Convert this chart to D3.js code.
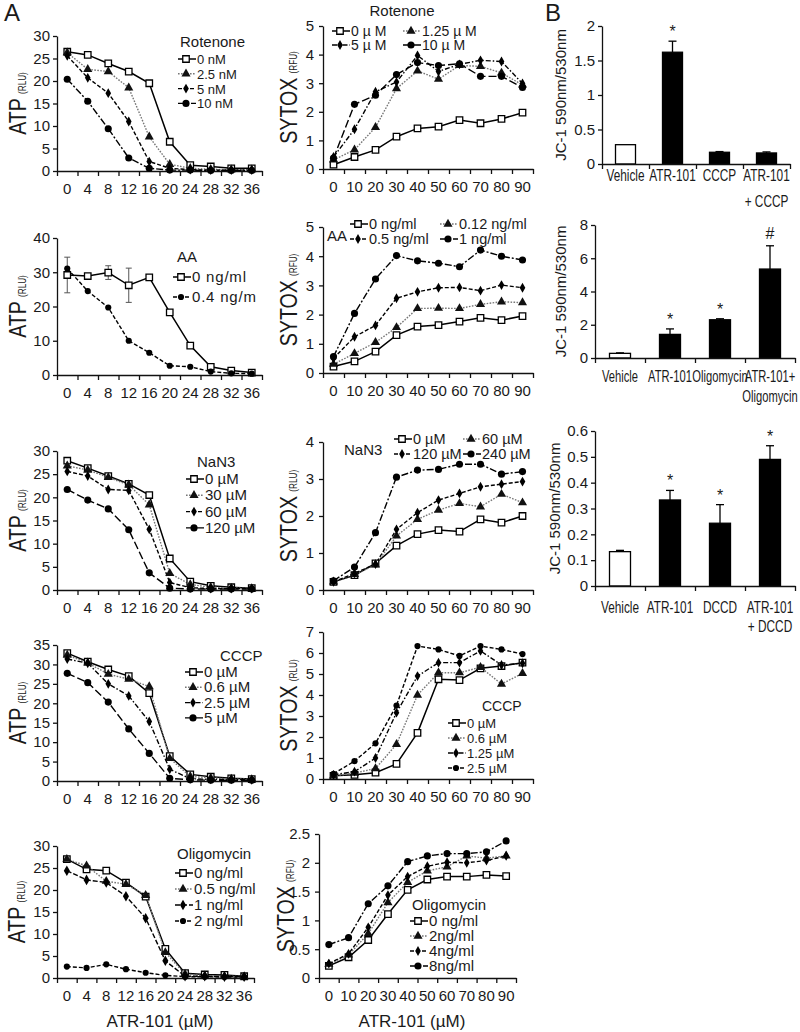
<!DOCTYPE html>
<html><head><meta charset="utf-8">
<script src="https://cdn.jsdelivr.net/npm/d3@7"></script>
<style>
body{margin:0;background:#fff}
svg{display:block}
text{font-family:'Liberation Sans',Arial,sans-serif;fill:#1a1a1a}
</style></head><body>
<svg id="c" width="800" height="1032"></svg>
<script>
// ---------- categories ----------
const atpDose = ["0","4","8","12","16","20","24","28","32","36"];
const sytoxTime = ["0","10","20","30","40","50","60","70","80","90"];

// ---------- Rotenone ----------
const rotAtpNames = ["0 nM","2.5 nM","5 nM","10 nM"];
const rotAtp0  = [26.5,25.8,23.9,22.1,19.5,6.5,1.3,1.0,0.6,0.6];
const rotAtp25 = [26.3,22.6,22.1,18.5,7.6,1.5,0.6,0.4,0.3,0.3];
const rotAtp5  = [25.6,20.7,17.3,11.0,2.1,0.6,0.3,0.2,0.2,0.2];
const rotAtp10 = [20.4,15.5,9.4,2.9,0.6,0.2,0.2,0.1,0.1,0.1];
const rotSytNames = ["0 \u00b5 M","1.25 \u00b5  M","5 \u00b5 M","10 \u00b5 M"];
const rotSyt0   = [0.15,0.42,0.67,1.13,1.42,1.48,1.71,1.60,1.75,1.97];
const rotSyt125 = [0.32,0.67,1.46,2.81,3.43,3.14,3.62,3.59,3.36,2.94];
const rotSyt5   = [0.42,1.39,2.70,3.04,3.97,3.41,3.66,3.80,3.76,2.99];
const rotSyt10  = [0.38,2.26,2.58,3.30,3.72,3.62,3.68,3.24,3.24,2.85];

// ---------- Antimycin A ----------
const aaAtpNames = ["0 ng/ml","0.4 ng/m"];
const aaAtp0    = [29.2,28.9,29.9,26.2,28.5,18.3,8.6,2.4,1.3,0.7];
const aaAtp0Err = [5.2,0.6,2.0,5.0,0.5,0.4,0.4,0.3,0.2,0.2];
const aaAtp04   = [31.1,24.5,19.7,10.0,6.5,2.7,2.4,1.0,0.5,0.4];
const aaSytNames = ["0 ng/ml","0.12 ng/ml","0.5 ng/ml","1 ng/ml"];
const aaSyt0   = [0.22,0.40,0.73,1.30,1.59,1.64,1.76,1.89,1.81,1.95];
const aaSyt012 = [0.30,0.67,1.05,1.56,2.21,2.22,2.21,2.35,2.44,2.41];
const aaSyt05  = [0.50,1.24,1.63,2.56,2.78,2.92,2.93,2.82,3.01,2.92];
const aaSyt1   = [0.56,2.04,3.22,4.02,3.84,3.76,3.64,4.21,4.00,3.87];

// ---------- NaN3 ----------
const naAtpNames = ["0 \u00b5M","30 \u00b5M","60 \u00b5M","120 \u00b5M"];
const naAtp0   = [27.9,26.3,24.6,22.9,20.5,6.8,1.8,0.9,0.6,0.4];
const naAtp30  = [26.8,25.9,24.3,22.7,18.4,3.6,1.2,0.6,0.4,0.3];
const naAtp60  = [25.6,24.6,21.7,21.5,13.1,1.6,0.5,0.3,0.3,0.3];
const naAtp120 = [21.7,19.4,17.5,13.0,3.7,0.4,0.2,0.2,0.2,0.2];
const naSytNames = ["0 \u00b5M","60 \u00b5M","120 \u00b5M","240 \u00b5M"];
const naSyt0   = [0.22,0.40,0.72,1.20,1.51,1.62,1.58,1.91,1.82,2.00];
const naSyt60  = [0.22,0.42,0.68,1.46,1.91,2.16,2.34,2.25,2.59,2.36];
const naSyt120 = [0.22,0.45,0.70,1.64,2.09,2.43,2.61,2.79,2.86,2.93];
const naSyt240 = [0.25,0.62,1.55,3.05,3.24,3.26,3.40,3.40,3.13,3.20];

// ---------- CCCP ----------
const ccAtpNames = ["0 \u00b5M","0.6 \u00b5M","2.5 \u00b5M","5 \u00b5M"];
const ccAtp0  = [32.9,30.7,28.7,27.0,22.6,6.4,1.7,1.1,0.7,0.5];
const ccAtp06 = [32.4,30.4,27.5,26.2,24.3,5.8,1.2,0.8,0.5,0.4];
const ccAtp25 = [31.4,30.3,25.0,21.9,15.3,3.0,0.6,0.4,0.4,0.3];
const ccAtp5  = [27.7,25.3,20.3,13.4,7.1,0.7,0.3,0.2,0.2,0.2];
const ccSytNames = ["0 \u00b5M","0.6  \u00b5M","1.25  \u00b5M","2.5  \u00b5M"];
const ccSyt0   = [0.15,0.20,0.30,0.72,2.20,4.75,4.71,5.27,5.38,5.54];
const ccSyt06  = [0.15,0.28,0.50,1.65,4.00,5.06,5.06,5.32,4.52,5.03];
const ccSyt125 = [0.20,0.35,1.00,3.16,4.90,5.54,5.54,6.10,5.43,5.51];
const ccSyt25  = [0.25,0.85,1.70,3.50,6.33,6.17,5.86,6.33,6.17,5.95];

// ---------- Oligomycin ----------
const olAtpNames = ["0 ng/ml","0.5 ng/ml","1 ng/ml","2 ng/ml"];
const olAtp0  = [27.0,24.7,24.4,21.7,18.5,6.6,1.1,0.8,0.7,0.4];
const olAtp05 = [27.0,25.5,22.0,21.3,18.8,5.8,0.9,0.5,0.4,0.3];
const olAtp1  = [24.4,22.3,21.7,18.6,13.6,3.9,0.4,0.4,0.3,0.3];
const olAtp2  = [2.6,2.3,3.1,2.0,1.2,0.6,0.3,0.3,0.2,0.2];
const olSytNames = ["0 ng/ml","2ng/ml","4ng/ml","8ng/ml"];
const olSyt0 = [0.21,0.36,0.66,1.11,1.53,1.71,1.76,1.76,1.79,1.77];
const olSyt2 = [0.24,0.40,0.77,1.31,1.66,1.86,1.93,2.12,2.08,2.12];
const olSyt4 = [0.25,0.42,0.88,1.44,1.76,1.94,2.01,2.00,2.04,2.12];
const olSyt8 = [0.58,0.70,1.29,1.60,2.02,2.12,2.16,2.16,2.19,2.38];

// ---------- JC-1 bars ----------
const jcCats1 = ["Vehicle","ATR-101","CCCP","ATR-101|+ CCCP"];
const jcVals1 = [0.28,1.62,0.17,0.16];
const jcErr1  = [0.0,0.16,0.01,0.015];
const jcSig1  = ["","*","",""];
const jcCats2 = ["Vehicle","ATR-101","Oligomycin","ATR-101+|Oligomycin"];
const jcVals2 = [0.28,1.42,2.30,5.35];
const jcErr2  = [0.03,0.33,0.06,1.40];
const jcSig2  = ["","*","*","#"];
const jcCats3 = ["Vehicle","ATR-101","DCCD","ATR-101|+ DCCD"];
const jcVals3 = [0.133,0.333,0.243,0.49];
const jcErr3  = [0.005,0.037,0.072,0.053];
const jcSig3  = ["","*","*","*"];

// ---------- ticks ----------
const atpTicks30 = [0,5,10,15,20,25,30];
const atpTicks40 = [0,10,20,30,40];
const atpTicks35 = [0,5,10,15,20,25,30,35];
const sytTicks5 = [0,1,2,3,4,5];
const sytTicks4 = [0,1,2,3,4];
const sytTicks7 = [0,1,2,3,4,5,6,7];
const sytTicks25 = [0,0.5,1,1.5,2,2.5];
const jcTicks1 = [0,0.5,1,1.5,2];
const jcTicks2 = [0,2,4,6,8];
const jcTicks3 = [0,0.1,0.2,0.3,0.4,0.5,0.6];

// =====================================================
const svg = d3.select("#c");
const fmt = d => String(+(+d).toFixed(2));

const ST = {
  sq:  {dash:null,      color:"#000", sym:d3.symbolSquare,   size:42, fill:"#fff", stroke:"#000", w:1.5},
  tri: {dash:"1.6,1.4", color:"#777", sym:d3.symbolTriangle, size:36, fill:"#111", stroke:"none", w:1.4},
  dia: {dash:"4,2",     color:"#000", sym:d3.symbolDiamond,  size:28, fill:"#000", stroke:"none", w:1.4},
  cir: {dash:"7,2,2,2", color:"#000", sym:d3.symbolCircle,   size:40, fill:"#000", stroke:"none", w:1.4},
  cirD:{dash:"4,2",     color:"#000", sym:d3.symbolCircle,   size:30, fill:"#000", stroke:"none", w:1.4},
  cirL:{dash:"8,3",     color:"#000", sym:d3.symbolCircle,   size:40, fill:"#000", stroke:"none", w:1.4},
  diaDD:{dash:"5,2,1.5,2",color:"#000", sym:d3.symbolDiamond, size:28, fill:"#000", stroke:"none", w:1.4},
  diaS:{dash:"5,2",     color:"#000", sym:d3.symbolDiamond,  size:32, fill:"#000", stroke:"none", w:1.4}
};

function marker(g, st, x, y){
  g.append("path").attr("d", d3.symbol().type(st.sym).size(st.size)())
   .attr("transform",`translate(${x},${y})`)
   .attr("fill", st.fill).attr("stroke", st.stroke).attr("stroke-width", 1.3);
}

function yTitle(g, bx, cy, big, small, fs){
  const t = g.append("text")
    .attr("transform",`translate(${bx},${cy}) rotate(-90) scale(0.82,1)`)
    .attr("text-anchor","middle");
  t.append("tspan").attr("font-size", fs).text(big);
  t.append("tspan").attr("font-size", 10).attr("dx", 5).text(small);
}

function linePanel(c){
  const g = svg.append("g");
  const x = d3.scaleBand().domain(c.cats).range([c.x0, c.x1]);
  const xi = d3.scaleLinear().domain([0, c.cats.length]).range([c.x0, c.x1]);
  const y = d3.scaleLinear().domain([0, c.ymax]).range([c.y0, c.yTop]);
  const cx = d => x(d) + x.bandwidth()/2;

  const ya = g.append("g").attr("transform",`translate(${c.x0},0)`)
    .call(d3.axisLeft(y).tickValues(c.yticks).tickFormat(fmt).tickSize(4).tickPadding(c.ypad||3).tickSizeOuter(0));
  ya.selectAll("text").attr("font-size", 15).attr("font-family", null);
  g.append("g").attr("transform",`translate(0,${c.y0})`)
    .call(d3.axisBottom(xi).tickValues(d3.range(c.cats.length+1)).tickFormat("").tickSize(5).tickSizeOuter(0));
  const xl = g.append("g").attr("transform",`translate(0,${c.y0})`)
    .call(d3.axisBottom(x).tickSize(0).tickPadding(12));
  xl.select(".domain").remove();
  xl.selectAll("text").attr("font-size", 15).attr("font-family", null);
  g.selectAll(".domain, .tick line").attr("stroke","#111").attr("stroke-width",1.3);

  c.series.forEach(s => {
    if (!s.err) return;
    s.vals.forEach((v,i) => {
      const e = s.err[i], px = cx(c.cats[i]);
      g.append("line").attr("x1",px).attr("x2",px).attr("y1",y(v-e)).attr("y2",y(v+e)).attr("stroke","#555").attr("stroke-width",1);
      [v-e, v+e].forEach(t => g.append("line").attr("x1",px-3).attr("x2",px+3).attr("y1",y(t)).attr("y2",y(t)).attr("stroke","#555").attr("stroke-width",1));
    });
  });
  const line = d3.line().x((d,i) => cx(c.cats[i])).y(d => y(d));
  c.series.forEach(s => {
    const st = ST[s.st];
    g.append("path").datum(s.vals).attr("d", line).attr("fill","none")
      .attr("stroke", st.color).attr("stroke-width", st.w)
      .attr("stroke-dasharray", st.dash);
  });
  c.series.forEach(s => {
    const st = ST[s.st];
    s.vals.forEach((v,i) => marker(g, st, cx(c.cats[i]), y(v)));
  });

  const L = c.legend;
  const lfs = L.fs || 15;
  if (L.title) g.append("text").attr("x", L.title[1]).attr("y", L.title[2])
      .attr("text-anchor", L.title[3]||"start").attr("font-size", L.tfs||15).text(L.title[0]);
  c.series.forEach((s,i) => {
    let sx, by;
    if (L.cols) { sx = L.cols[i%2]; by = L.rows[Math.floor(i/2)]; }
    else { sx = L.x; by = L.y0 + i*L.dy; }
    const st = ST[s.st];
    const ly = by - 5;
    g.append("line").attr("x1", sx).attr("x2", sx+18).attr("y1", ly).attr("y2", ly)
      .attr("stroke", st.color).attr("stroke-width", st.w).attr("stroke-dasharray", st.dash);
    marker(g, st, sx+8, ly);
    g.append("text").attr("x", sx+19).attr("y", by).attr("font-size", lfs)
      .attr("letter-spacing", L.ls||0).text(s.name);
  });
  yTitle(g, c.tx, (c.y0+c.yTop)/2, c.title, c.unit, 24);
}

function barPanel(c){
  const g = svg.append("g");
  const x = d3.scaleBand().domain(c.cats).range([c.x0, c.x1]);
  const xi = d3.scaleLinear().domain([0, c.cats.length]).range([c.x0, c.x1]);
  const y = d3.scaleLinear().domain([0, c.ymax]).range([c.y0, c.yTop]);
  const bw = c.bar;
  const ya = g.append("g").attr("transform",`translate(${c.x0},0)`)
    .call(d3.axisLeft(y).tickValues(c.yticks).tickFormat(fmt).tickSize(4).tickPadding(3).tickSizeOuter(0));
  ya.selectAll("text").attr("font-size", 15).attr("font-family", null);
  c.vals.forEach((v,i) => {
    const px = x(c.cats[i]) + x.bandwidth()/2;
    g.append("rect").attr("x", px-bw/2).attr("width", bw).attr("y", y(v)).attr("height", y(0)-y(v))
      .attr("fill", i===0 ? "#fff" : "#000").attr("stroke","#000").attr("stroke-width",1.3);
    const e = c.err[i];
    if (e > 0) {
      g.append("line").attr("x1",px).attr("x2",px).attr("y1",y(v)).attr("y2",y(v+e)).attr("stroke","#000").attr("stroke-width",1.3);
      g.append("line").attr("x1",px-4).attr("x2",px+4).attr("y1",y(v+e)).attr("y2",y(v+e)).attr("stroke","#000").attr("stroke-width",1.3);
    }
    if (c.sig[i]) {
      const isStar = c.sig[i] === "*";
      g.append("text").attr("x", px).attr("y", y(v+e) - 13 + (isStar ? 9 : 6))
        .attr("text-anchor","middle").attr("font-size", 16).attr("fill","#333").text(c.sig[i]);
    }
  });
  g.append("g").attr("transform",`translate(0,${c.y0})`)
    .call(d3.axisBottom(xi).tickValues(d3.range(c.cats.length+1)).tickFormat("").tickSize(5).tickSizeOuter(0));
  const xl = g.append("g").attr("transform",`translate(0,${c.y0})`)
    .call(d3.axisBottom(x).tickSize(0).tickPadding(c.lpad).tickFormat(""));
  xl.select(".domain").remove();
  xl.selectAll(".tick").each(function(d){
    const parts = d.split("|");
    const t = d3.select(this).select("text").attr("font-size", 16).attr("font-family", null)
      .attr("transform", `scale(${c.nx||0.74},1)`);
    parts.forEach((p,k) => t.append("tspan").attr("x",0).attr("dy", k===0 ? "0.71em" : c.lgap).text(p));
    t.attr("dy", null);
  });
  g.selectAll(".domain, .tick line").attr("stroke","#111").attr("stroke-width",1.3);
  g.append("text").attr("transform",`translate(${c.tx},${(c.y0+c.yTop)/2}) rotate(-90)`)
    .attr("text-anchor","middle").attr("font-size",15).text("JC-1 590nm/530nm");
}

// ---------- ATP column ----------
linePanel({cats:atpDose, x0:57, x1:262, y0:171, yTop:36, ymax:30, yticks:atpTicks30, title:"ATP", unit:"(RLU)", tx:26,
  series:[{name:rotAtpNames[0],vals:rotAtp0,st:"sq"},{name:rotAtpNames[1],vals:rotAtp25,st:"tri"},{name:rotAtpNames[2],vals:rotAtp5,st:"dia"},{name:rotAtpNames[3],vals:rotAtp10,st:"cir"}],
  legend:{title:["Rotenone",180,47], x:178, y0:64, dy:14.8, fs:13}});
linePanel({cats:atpDose, x0:57, x1:262, y0:375, yTop:238, ymax:40, yticks:atpTicks40, title:"ATP", unit:"(RLU)", tx:26,
  series:[{name:aaAtpNames[0],vals:aaAtp0,err:aaAtp0Err,st:"sq"},{name:aaAtpNames[1],vals:aaAtp04,st:"cirD"}],
  legend:{title:["AA",177,262], x:173, y0:282, dy:20, ls:0.8}});
linePanel({cats:atpDose, x0:57, x1:262, y0:590, yTop:451, ymax:30, yticks:atpTicks30, title:"ATP", unit:"(RLU)", tx:26,
  series:[{name:naAtpNames[0],vals:naAtp0,st:"sq"},{name:naAtpNames[1],vals:naAtp30,st:"tri"},{name:naAtpNames[2],vals:naAtp60,st:"dia"},{name:naAtpNames[3],vals:naAtp120,st:"cirL"}],
  legend:{title:["NaN3",197,467], x:186, y0:484, dy:16.3}});
linePanel({cats:atpDose, x0:57, x1:262, y0:781, yTop:645, ymax:35, yticks:atpTicks35, title:"ATP", unit:"(RLU)", tx:26,
  series:[{name:ccAtpNames[0],vals:ccAtp0,st:"sq"},{name:ccAtpNames[1],vals:ccAtp06,st:"tri"},{name:ccAtpNames[2],vals:ccAtp25,st:"diaDD"},{name:ccAtpNames[3],vals:ccAtp5,st:"cirL"}],
  legend:{title:["CCCP",220,661], x:185, y0:677, dy:15.3}});
linePanel({cats:atpDose, x0:57, x1:254, y0:978, yTop:846, ymax:30, yticks:atpTicks30, title:"ATP", unit:"(RLU)", tx:25,
  series:[{name:olAtpNames[0],vals:olAtp0,st:"sq"},{name:olAtpNames[1],vals:olAtp05,st:"tri"},{name:olAtpNames[2],vals:olAtp1,st:"diaS"},{name:olAtpNames[3],vals:olAtp2,st:"cirD"}],
  legend:{title:["Oligomycin",177,859], x:175, y0:878, dy:16}});

// ---------- SYTOX column ----------
linePanel({cats:sytoxTime, x0:323, x1:533, y0:169, yTop:26, ymax:5, yticks:sytTicks5, title:"SYTOX", unit:"(RFU)", tx:297, ypad:5,
  series:[{name:rotSytNames[0],vals:rotSyt0,st:"sq"},{name:rotSytNames[1],vals:rotSyt125,st:"tri"},{name:rotSytNames[2],vals:rotSyt5,st:"diaDD"},{name:rotSytNames[3],vals:rotSyt10,st:"cirL"}],
  legend:{title:["Rotenone",402,16,"middle"], cols:[332,403], rows:[36,50], fs:14}});
linePanel({cats:sytoxTime, x0:323, x1:533, y0:373, yTop:227, ymax:5, yticks:sytTicks5, title:"SYTOX", unit:"(RFU)", tx:297, ypad:5,
  series:[{name:aaSytNames[0],vals:aaSyt0,st:"sq"},{name:aaSytNames[1],vals:aaSyt012,st:"tri"},{name:aaSytNames[2],vals:aaSyt05,st:"dia"},{name:aaSytNames[3],vals:aaSyt1,st:"cir"}],
  legend:{title:["AA",327,241], cols:[350,440], rows:[229,244], fs:14.5}});
linePanel({cats:sytoxTime, x0:323, x1:533, y0:590, yTop:442, ymax:4, yticks:sytTicks4, title:"SYTOX", unit:"(RLU)", tx:297, ypad:5,
  series:[{name:naSytNames[0],vals:naSyt0,st:"sq"},{name:naSytNames[1],vals:naSyt60,st:"tri"},{name:naSytNames[2],vals:naSyt120,st:"dia"},{name:naSytNames[3],vals:naSyt240,st:"cir"}],
  legend:{title:["NaN3",344,455], cols:[394,463], rows:[444,459], fs:14.5}});
linePanel({cats:sytoxTime, x0:323, x1:533, y0:779, yTop:632, ymax:7, yticks:sytTicks7, title:"SYTOX", unit:"(RLU)", tx:297, ypad:5,
  series:[{name:ccSytNames[0],vals:ccSyt0,st:"sq"},{name:ccSytNames[1],vals:ccSyt06,st:"tri"},{name:ccSytNames[2],vals:ccSyt125,st:"diaDD"},{name:ccSytNames[3],vals:ccSyt25,st:"cirD"}],
  legend:{title:["CCCP",482,711], tfs:14, x:448, y0:728, dy:15, fs:13}});
linePanel({cats:sytoxTime, x0:319, x1:516, y0:978, yTop:834, ymax:2.5, yticks:sytTicks25, title:"SYTOX", unit:"(RFU)", tx:294, ypad:5,
  series:[{name:olSytNames[0],vals:olSyt0,st:"sq"},{name:olSytNames[1],vals:olSyt2,st:"tri"},{name:olSytNames[2],vals:olSyt4,st:"dia"},{name:olSytNames[3],vals:olSyt8,st:"cir"}],
  legend:{title:["Oligomycin",412,910], x:410, y0:926, dy:15}});

// ---------- JC-1 bars ----------
barPanel({cats:jcCats1, vals:jcVals1, err:jcErr1, sig:jcSig1, x0:602, x1:790, y0:164, yTop:26, ymax:2, yticks:jcTicks1, bar:20, tx:566, lpad:6, lgap:"1.6em"});
barPanel({cats:jcCats2, vals:jcVals2, err:jcErr2, sig:jcSig2, x0:595, x1:795, y0:358, yTop:225, ymax:8, yticks:jcTicks2, bar:21, tx:566, lpad:13, lgap:"1.2em", nx:0.7});
barPanel({cats:jcCats3, vals:jcVals3, err:jcErr3, sig:jcSig3, x0:595, x1:795, y0:586, yTop:431, ymax:0.6, yticks:jcTicks3, bar:21, tx:560, lpad:16, lgap:"1.15em"});

// ---------- figure labels ----------
svg.append("text").attr("x",4).attr("y",21).attr("font-size",24).text("A");
svg.append("text").attr("x",545).attr("y",21).attr("font-size",24).text("B");
svg.append("text").attr("x",160).attr("y",1027).attr("text-anchor","middle").attr("font-size",17).text("ATR-101 (\u00b5M)");
svg.append("text").attr("x",412).attr("y",1027).attr("text-anchor","middle").attr("font-size",17).text("ATR-101 (\u00b5M)");
</script>
</body></html>
